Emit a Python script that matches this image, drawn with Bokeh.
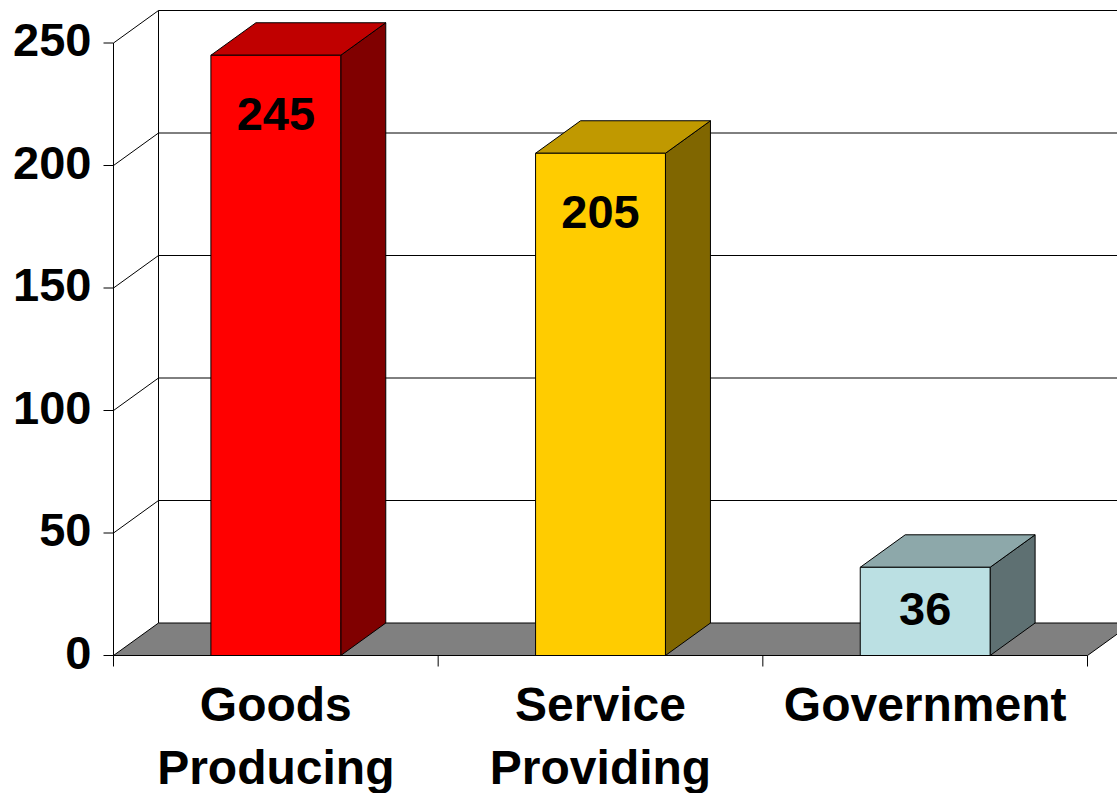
from bokeh.plotting import figure
from bokeh.models import Range1d
from bokeh.core.properties import value
from bokeh.embed import file_html
from bokeh.resources import INLINE

# ---- data ----
categories = ["Goods\nProducing", "Service\nProviding", "Government"]
values = [245, 205, 36]
front_colors = ["#FF0000", "#FFCC00", "#BBE0E3"]
top_colors = ["#C00000", "#C09900", "#8DA8AA"]
side_colors = ["#800000", "#806600", "#5E7072"]
y_ticks = [0, 50, 100, 150, 200, 250]
y_tick_labels = ["0", "50", "100", "150", "200", "250"]

# ---- layout / scale ----
W, H = 1117, 793
SX = 324.67          # px per category
SY = 2.45            # px per value unit
OX = 113             # px of x = 0 inside figure
OY = 655             # px (from top) of value 0 inside figure
x_start, x_end = -OX / SX, (W - OX) / SX
y_start, y_end = -(H - OY) / SY, OY / SY
DX, DY = 45 / SX, 32.5 / SY   # 3D depth offset
BAR_W = 0.40
NCAT = len(values)
YMAX = max(y_ticks)
FONT = value("Liberation Sans")

p = figure(width=W, height=H, x_range=Range1d(x_start, x_end), y_range=Range1d(y_start, y_end),
           output_backend="svg", toolbar_location=None,
           x_axis_location=None, y_axis_location=None, min_border=0)
p.outline_line_color = None
p.grid.visible = False
p.background_fill_color = "white"
p.border_fill_color = "white"

# floor
p.patch([0, NCAT, NCAT + DX, DX], [0, 0, DY, DY], fill_color="#808080", line_color=None)

# back wall grid lines
p.multi_line(xs=[[DX, x_end + 1] for t in y_ticks], ys=[[t + DY, t + DY] for t in y_ticks],
             line_color="black", line_width=1)
# side wall diagonals
p.multi_line(xs=[[0, DX] for t in y_ticks], ys=[[t, t + DY] for t in y_ticks],
             line_color="black", line_width=1)
# back wall left edge
p.line([DX, DX], [DY, YMAX + DY], line_color="black", line_width=1)
# floor right edge
p.line([NCAT, NCAT + DX], [0, DY], line_color="black", line_width=1)

# bars
lefts = [i + 0.5 - BAR_W / 2 for i in range(NCAT)]
rights = [i + 0.5 + BAR_W / 2 for i in range(NCAT)]
p.patches(xs=[[r, r + DX, r + DX, r] for r in rights],
          ys=[[0, DY, v + DY, v] for v in values],
          fill_color=side_colors, line_color="black", line_width=1)
p.patches(xs=[[l, r, r + DX, l + DX] for l, r in zip(lefts, rights)],
          ys=[[v, v, v + DY, v + DY] for v in values],
          fill_color=top_colors, line_color="black", line_width=1)
p.patches(xs=[[l, r, r, l] for l, r in zip(lefts, rights)],
          ys=[[0, 0, v, v] for v in values],
          fill_color=front_colors, line_color="black", line_width=1)

# front axes
p.line([0, 0], [0, YMAX], line_color="black", line_width=1)
p.line([0, NCAT], [0, 0], line_color="black", line_width=1)
tick_out_x = 10 / SX
tick_out_y = 11 / SY
p.multi_line(xs=[[-tick_out_x, 0] for t in y_ticks], ys=[[t, t] for t in y_ticks],
             line_color="black", line_width=1)
p.multi_line(xs=[[i, i] for i in range(NCAT + 1)], ys=[[0, -tick_out_y] for i in range(NCAT + 1)],
             line_color="black", line_width=1)

# y tick labels
p.text(x=[-22 / SX] * len(y_ticks), y=[t + 3 / SY for t in y_ticks], text=y_tick_labels,
       text_font=FONT, text_font_style="bold", text_font_size="47px",
       text_align="right", text_baseline="middle", text_color="black")

# value labels
p.text(x=[i + 0.5 for i in range(NCAT)], y=[max(v - 24, v / 2 + 1) for v in values],
       text=[str(v) for v in values],
       text_font=FONT, text_font_style="bold", text_font_size="47px",
       text_align="center", text_baseline="middle", text_color="black")

# category labels
p.text(x=[i + 0.5 for i in range(NCAT)], y=[(655 - 677) / SY] * NCAT, text=categories,
       text_font=FONT, text_font_style="bold", text_font_size="48px",
       text_align="center", text_baseline="top", text_line_height=1.2, text_color="black")

open("out.html", "w").write(file_html(p, INLINE))
